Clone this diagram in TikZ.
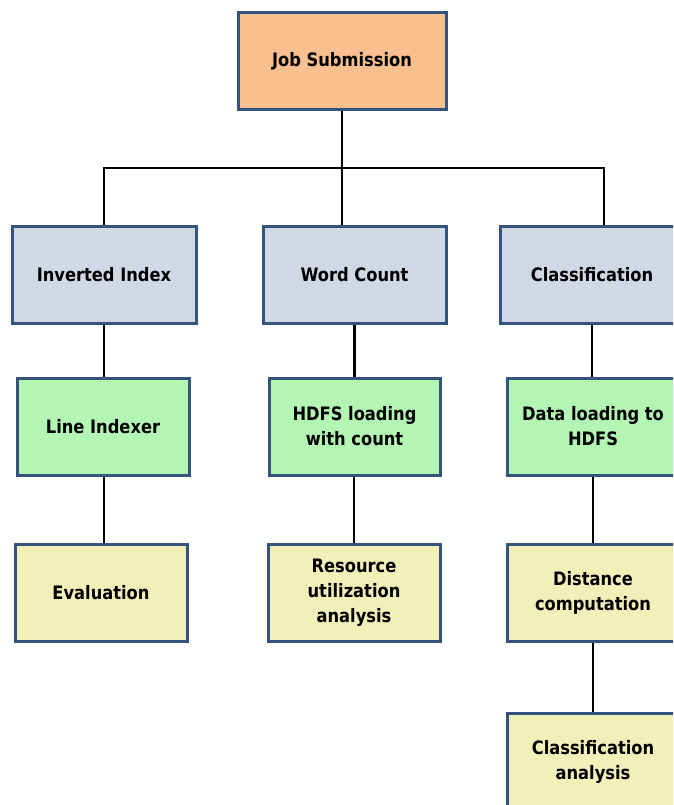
\documentclass[tikz,border=0pt]{standalone}
\usepackage{fontspec}
\setmainfont{DejaVu Sans}[FakeStretch=0.88]
\usepackage{tikz}

\definecolor{jobcol}{RGB}{249,192,143}
\definecolor{taskcol}{RGB}{208,216,228}
\definecolor{stepcol}{RGB}{179,245,179}
\definecolor{evalcol}{RGB}{240,240,184}
\definecolor{edgecol}{RGB}{52,84,126}

\begin{document}
\begin{tikzpicture}[x=1pt,y=-1pt,
    box/.style={draw=edgecol,line width=3pt,align=center,inner sep=0pt,
        font=\fontsize{18.5}{25}\selectfont\bfseries,minimum height=97pt},
    link/.style={line width=2.8pt,black}]

    \useasboundingbox (0,0) rectangle (673,805);
    \clip (0,0) rectangle (673,805);

\node[box,fill=jobcol,minimum width=208pt] (job) at (342,61.5) {Job Submission};

\node[box,fill=taskcol,minimum width=184pt] (inv) at (104,275) {Inverted Index};
\node[box,fill=taskcol,minimum width=183pt] (wc) at (354.5,275) {Word Count};
\node[box,fill=taskcol,minimum width=184pt] (cls) at (592,275) {Classification};

\node[box,fill=stepcol,minimum width=172pt] (lidx) at (103,426.5) {Line Indexer};
\node[box,fill=stepcol,minimum width=171pt] (hdfs) at (354.5,426.5) {HDFS loading\\with count};
\node[box,fill=stepcol,minimum width=172pt] (dload) at (593,426.5) {Data loading to\\HDFS};

\node[box,fill=evalcol,minimum width=172pt] (eval) at (101,593) {Evaluation};
\node[box,fill=evalcol,minimum width=172pt] (res) at (354,593) {Resource\\utilization\\analysis};
\node[box,fill=evalcol,minimum width=172pt] (dist) at (593,593) {Distance\\computation};
\node[box,fill=evalcol,minimum width=172pt] (clsan) at (593,761.5) {Classification\\analysis};

% bus under the job
\coordinate (busL) at (104,168);
\coordinate (busR) at (604,168);
\draw[link] (job.south) -- (job.south |- wc.north);
\draw[link] (busL |- inv.north) -- (busL) -- (busR) -- (busR |- cls.north);

\draw[link] (inv.south) -- (inv.south |- lidx.north);
\draw[link] (inv.south |- lidx.south) -- (inv.south |- eval.north);
\draw[link] (wc.south) -- (wc.south |- hdfs.north);
\draw[link] (res.north |- hdfs.south) -- (res.north);
\draw[link] (cls.south) -- (cls.south |- dload.north);
\draw[link] (dload.south) -- (dload.south |- dist.north);
\draw[link] (dist.south) -- (clsan.north);
\end{tikzpicture}
\end{document}
